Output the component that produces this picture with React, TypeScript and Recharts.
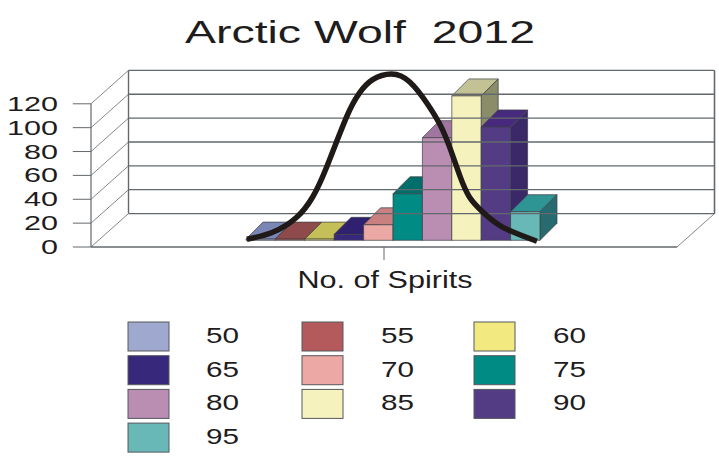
import React from "react";
import { ComposedChart, Bar, Line, XAxis, YAxis, ReferenceLine, Legend } from "recharts";

const categories = ["No. of Spirits"];
const scoreBands = ["50", "55", "60", "65", "70", "75", "80", "85", "90", "95"];
const spiritCounts = [1, 1, 1, 5, 13, 39, 86, 121, 95, 24];
const frontColors = ["#9FA9CF", "#B55A5C", "#F2EA80", "#38287C", "#EBA8A5", "#008B85", "#BA8DB3", "#F5F2BE", "#543C85", "#69B8B8"];
const topColors = ["#7A86B6", "#8F4A4C", "#C5BF5A", "#2F2070", "#C98080", "#006E6A", "#A076A0", "#C2C294", "#472A7E", "#2E9494"];
const sideColors = ["#5A6590", "#6F3A3C", "#94904A", "#261A5C", "#9A6262", "#005452", "#7E5C80", "#8A8C6A", "#3A2868", "#276B70"];
const yTicks = [0, 20, 40, 60, 80, 100, 120];
const curveX = [47.5, 51.9, 56, 58.7, 61.1, 64.5, 66.7, 68.9, 72.2, 75.3, 78.2, 80.4, 82.1, 83.8, 85.5, 87.8, 91.2, 97];
const curveY = [6.5, 12.3, 24.9, 41.7, 66.9, 108.9, 129, 140, 145, 138.3, 120.7, 103, 83.7, 60.2, 41.7, 29.1, 16.5, 4.8];

const chartRow: Record<string, string | number> = { name: categories[0] };
scoreBands.forEach((b, i) => { chartRow[b] = spiritCounts[i]; });
const chartData = [chartRow];
const curveData = curveX.map((x, i) => ({ x, y: curveY[i] }));

const FONT = "'Liberation Sans', Arial, sans-serif";
const TEXT = "#1e1c1d";
const GRID = "#63686c";
const X_MIN = 20.9;
const X_MAX = 120.9;
const DEPTH_X = 6.4;
const DEPTH_Y = 28;
const Y_TOP = 120;

const makeBox = (i: number) => (props: any) => {
  const { x, y, width, height } = props;
  const ox = x + 9;
  const oy = y - 6.7;
  const d = 17;
  const w = width;
  const h = height;
  const edge = "#3d3f42";
  return (
    <g stroke={edge} strokeWidth={0.7} strokeLinejoin="round">
      <polygon fill={topColors[i]} points={`${ox},${oy} ${ox + d},${oy - d} ${ox + w + d},${oy - d} ${ox + w},${oy}`} />
      <polygon fill={sideColors[i]} points={`${ox + w},${oy} ${ox + w + d},${oy - d} ${ox + w + d},${oy + h - d} ${ox + w},${oy + h}`} />
      <rect fill={frontColors[i]} x={ox} y={oy} width={w} height={h} />
    </g>
  );
};

const YTick = (props: any) => {
  const { x, y, payload } = props;
  const s = String(payload.value);
  return (
    <text x={x - 27} y={y + 7} textAnchor="end" fontFamily={FONT} fontSize={21} fill={TEXT} textLength={s.length * 17} lengthAdjust="spacingAndGlyphs">
      {s}
    </text>
  );
};

const CatTick = (props: any) => {
  const { x, y, payload } = props;
  return (
    <g>
      <line x1={x} x2={x} y1={y - 8} y2={y + 5} stroke={GRID} strokeWidth={1} />
      <text x={x + 1} y={y + 33} textAnchor="middle" fontFamily={FONT} fontSize={23} fill={TEXT} textLength={175} lengthAdjust="spacingAndGlyphs">
        {payload.value}
      </text>
    </g>
  );
};

const LEGEND_COLS = [128, 302, 474];
const LEGEND_TEXT = [206, 381, 553];
const LegendBoxes = () => (
  <svg width={719} height={469} style={{ position: "absolute", left: 0, top: 0 }}>
    {scoreBands.map((b, i) => {
      const c = i % 3;
      const r = Math.floor(i / 3);
      const top = 322 + r * 33.7;
      return (
        <g key={b}>
          <rect x={LEGEND_COLS[c]} y={top} width={41} height={29} fill={frontColors[i]} stroke="#55585c" strokeWidth={1} />
          <text x={LEGEND_TEXT[c]} y={top + 21} fontFamily={FONT} fontSize={22.5} fill={TEXT} textLength={33} lengthAdjust="spacingAndGlyphs">{b}</text>
        </g>
      );
    })}
  </svg>
);

const seg = (x1: number, y1: number, x2: number, y2: number, key: string, w = 1.2) => (
  <ReferenceLine
    key={key}
    xAxisId="curve"
    yAxisId="v"
    segment={[{ x: x1, y: y1 }, { x: x2, y: y2 }]}
    stroke={GRID}
    strokeWidth={w}
    ifOverflow="visible"
  />
);

export default function App() {
  return (
    <div style={{ position: "absolute", left: 0, top: 0, width: 719, height: 469, background: "#fff", overflow: "hidden" }}>
      <ComposedChart
        width={719}
        height={469}
        data={chartData}
        margin={{ top: 68, right: 42, bottom: 192, left: 31 }}
        barSize={29.4}
        barGap={0}
      >
        <XAxis xAxisId="cat" dataKey="name" type="category" axisLine={false} tickLine={false} height={30} tick={<CatTick />} interval={0} />
        <XAxis xAxisId="curve" dataKey="x" type="number" domain={[X_MIN, X_MAX]} hide allowDataOverflow />
        <YAxis yAxisId="v" type="number" domain={[0, 150]} ticks={yTicks} width={60} axisLine={false} tickLine={false} tick={<YTick />} interval={0} tickMargin={0} />

        {seg(X_MIN, 0, X_MIN, Y_TOP, "front-axis")}
        {seg(X_MIN + DEPTH_X, DEPTH_Y, X_MIN + DEPTH_X, Y_TOP + DEPTH_Y, "back-left", 1.4)}
        {seg(X_MAX + DEPTH_X, DEPTH_Y, X_MAX + DEPTH_X, Y_TOP + DEPTH_Y, "back-right", 1.6)}
        {seg(X_MAX, 0, X_MAX + DEPTH_X, DEPTH_Y, "floor-right", 0.8)}
        {seg(X_MIN, 0, X_MAX, 0, "floor-front", 1.4)}
        {yTicks.map((t) => seg(X_MIN + DEPTH_X, t + DEPTH_Y, X_MAX + DEPTH_X, t + DEPTH_Y, `grid-${t}`, 1.3))}
        {yTicks.map((t) => seg(X_MIN, t, X_MIN + DEPTH_X, t + DEPTH_Y, `diag-${t}`, 0.8))}
        {yTicks.map((t) => seg(X_MIN - 3.1, t, X_MIN, t, `tick-${t}`, 1))}

        {scoreBands.map((b, i) => (
          <Bar key={b} xAxisId="cat" yAxisId="v" dataKey={b} isAnimationActive={false} shape={makeBox(i)} fill={frontColors[i]} legendType="none" />
        ))}
        <Line
          xAxisId="curve"
          yAxisId="v"
          data={curveData}
          dataKey="y"
          type="natural"
          stroke="#1f1a17"
          strokeWidth={5.5}
          dot={false}
          activeDot={false}
          isAnimationActive={false}
          legendType="none"
        />
        <Legend
          layout="horizontal"
          verticalAlign="middle"
          align="center"
          wrapperStyle={{ left: 0, top: 0, width: 719, height: 469, pointerEvents: "none" }}
          content={() => <LegendBoxes />}
        />
        <text x={360} y={43} textAnchor="middle" fontFamily={FONT} fontSize={32} fill={TEXT} textLength={350} lengthAdjust="spacingAndGlyphs" style={{ whiteSpace: "pre" }} xmlSpace="preserve">
          {"Arctic Wolf  2012"}
        </text>
      </ComposedChart>
    </div>
  );
}
